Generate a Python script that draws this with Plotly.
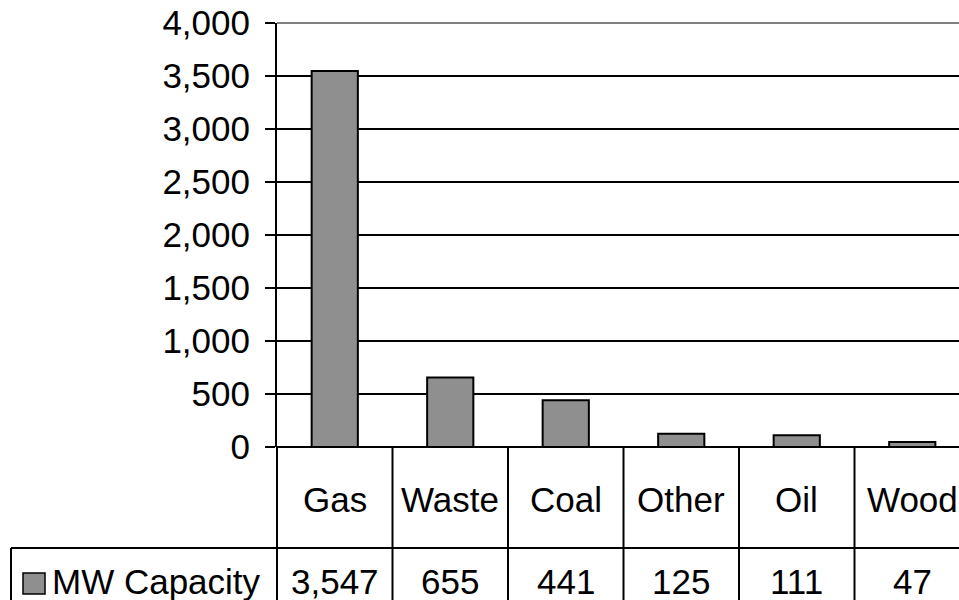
import plotly.graph_objects as go

categories = ["Gas", "Waste", "Coal", "Other", "Oil", "Wood"]
values = [3547, 655, 441, 125, 111, 47]
value_labels = ["3,547", "655", "441", "125", "111", "47"]
series_name = "MW Capacity"
y_ticks = [0, 500, 1000, 1500, 2000, 2500, 3000, 3500, 4000]

OFF = 0  # body margin removed by post_script
W, H = 959 - OFF, 600 - OFF
L, T = 277 - OFF, 23 - OFF
B = H - (447 - OFF)
plot_w = W - L
plot_h = H - T - B
cat_w = 115.5
x0 = -0.5
x1 = x0 + plot_w / cat_w

FONT = "Liberation Sans, Arial, sans-serif"
FS = 35
BAR = "#8f8f8f"

def px_x(px):  # reference page px -> paper
    return (px - OFF - L) / plot_w

def px_y(py):
    return (H - B - (py - OFF)) / plot_h

def cat_paper(v):
    return (v - x0) / (x1 - x0)

fig = go.Figure()
fig.add_trace(go.Bar(
    x=list(range(len(categories))), y=values, name=series_name,
    width=0.4, marker=dict(color=BAR, line=dict(color="black", width=2)),
    showlegend=False,
))

shapes = []
shapes.append(dict(type="line", xref="paper", yref="paper", x0=0, x1=1, y0=1, y1=1,
                   line=dict(color="#808080", width=2)))
row_mid = px_y(548)
bottom = px_y(604)
shapes.append(dict(type="line", xref="paper", yref="paper", x0=px_x(11), x1=1.01,
                   y0=row_mid, y1=row_mid, line=dict(color="black", width=2)))
shapes.append(dict(type="line", xref="paper", yref="paper", x0=px_x(11), x1=px_x(11),
                   y0=row_mid, y1=bottom, line=dict(color="black", width=2)))
for i in range(len(categories)):
    xp = cat_paper(i - 0.5)
    if xp <= 1:
        shapes.append(dict(type="line", xref="paper", yref="paper", x0=xp, x1=xp,
                           y0=0, y1=bottom, line=dict(color="black", width=2)))
shapes.append(dict(type="rect", xref="paper", yref="paper", x0=px_x(23), x1=px_x(45),
                   y0=px_y(594), y1=px_y(573), fillcolor=BAR, line=dict(color="black", width=1.5)))

annotations = []
for i, (c, v) in enumerate(zip(categories, value_labels)):
    annotations.append(dict(x=cat_paper(i), y=px_y(499), xref="paper", yref="paper",
                            text=c, showarrow=False, xanchor="center", yanchor="middle",
                            font=dict(family=FONT, size=FS, color="black")))
    annotations.append(dict(x=cat_paper(i), y=px_y(581), xref="paper", yref="paper",
                            text=v, showarrow=False, xanchor="center", yanchor="middle",
                            font=dict(family=FONT, size=FS, color="black")))
annotations.append(dict(x=px_x(50), y=px_y(581), xref="paper", yref="paper",
                        text=series_name, showarrow=False, xanchor="left", yanchor="middle",
                        font=dict(family=FONT, size=FS, color="black")))

fig.update_layout(
    width=W, height=H,
    margin=dict(l=L, r=0, t=T, b=B, pad=0),
    paper_bgcolor="white", plot_bgcolor="white",
    xaxis=dict(range=[x0, x1], showticklabels=False, ticks="", showgrid=False,
               zeroline=False, showline=False, fixedrange=True),
    yaxis=dict(range=[0, 4000], tickvals=y_ticks, tickformat=",d",
               ticks="outside", ticklen=10, tickwidth=2, tickcolor="black",
               showline=True, linecolor="black", linewidth=2,
               showgrid=True, gridcolor="black", gridwidth=2,
               zeroline=True, zerolinecolor="black", zerolinewidth=2,
               tickfont=dict(family=FONT, size=FS, color="black"),
               ticklabelstandoff=8, ticklabeloverflow="allow"),
    shapes=shapes, annotations=annotations,
    font=dict(family=FONT, size=FS, color="black"),
)

fig.write_html(
    "out.html",
    config={"displayModeBar": False},
    post_script="document.body.style.margin='0';document.body.style.overflow='hidden';",
)
